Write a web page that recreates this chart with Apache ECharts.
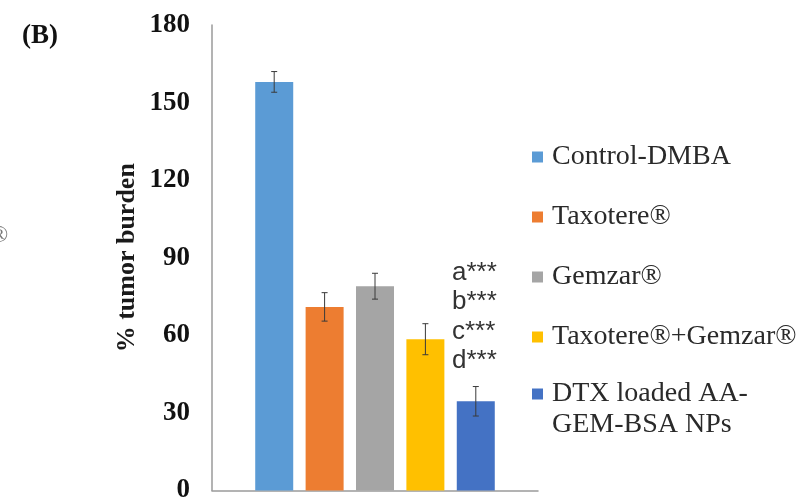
<!DOCTYPE html>
<html>
<head>
<meta charset="utf-8">
<script src="https://cdn.jsdelivr.net/npm/echarts@6/dist/echarts.min.js"></script>
<style>
html,body{margin:0;padding:0;background:#fff;}
#chart{width:802px;height:504px;}
</style>
</head>
<body>
<div id="chart"></div>
<script>
// ---- data ----
const categories = ['group'];
const seriesNames = ['Control-DMBA', 'Taxotere®', 'Gemzar®', 'Taxotere®+Gemzar®', 'DTX loaded AA-GEM-BSA NPs'];
const meanValues = [158, 71, 79, 58.5, 34.5];
const errorValues = [4, 5.5, 5, 6, 5.7];
const yTicks = [0, 30, 60, 90, 120, 150, 180];
const annotationLines = ['a***', 'b***', 'c***', 'd***'];
const panelLabel = '(B)';
const yAxisTitle = '% tumor burden';

// ---- style ----
const colors = ['#5B9BD5', '#ED7D31', '#A5A5A5', '#FFC000', '#4472C4'];
const BAR_W = 38;
const BAR_GAP_PX = 12.4;
const SERIF = '"Liberation Serif","Times New Roman",serif';

const chart = echarts.init(document.getElementById('chart'), null, {renderer: 'canvas'});

const barSeries = seriesNames.map((name, i) => ({
  name: name,
  type: 'bar',
  data: [meanValues[i]],
  barWidth: BAR_W,
  barGap: (BAR_GAP_PX / BAR_W * 100).toFixed(1) + '%',
  itemStyle: {color: colors[i]},
  z: 2
}));

const errorSeries = {
  type: 'custom',
  data: meanValues.map((v, i) => [0, v, errorValues[i], i]),
  z: 5,
  renderItem: function (params, api) {
    const v = api.value(1), e = api.value(2), idx = api.value(3);
    const n = seriesNames.length;
    const off = (idx - (n - 1) / 2) * (BAR_W + BAR_GAP_PX);
    const top = api.coord([0, v + e]);
    const bot = api.coord([0, v - e]);
    const x = top[0] + off;
    const cap = 3;
    const st = {stroke: '#3a3a3a', lineWidth: 1};
    return {
      type: 'group',
      children: [
        {type: 'line', shape: {x1: x, y1: top[1], x2: x, y2: bot[1]}, style: st},
        {type: 'line', shape: {x1: x - cap, y1: top[1], x2: x + cap, y2: top[1]}, style: st},
        {type: 'line', shape: {x1: x - cap, y1: bot[1], x2: x + cap, y2: bot[1]}, style: st}
      ]
    };
  }
};

const option = {
  backgroundColor: '#ffffff',
  animation: false,
  grid: {left: 212, right: 264, top: 25, bottom: 12, containLabel: false},
  xAxis: {
    type: 'category',
    data: categories,
    axisLine: {show: true, lineStyle: {color: '#9a9a9a', width: 1.5}},
    axisTick: {show: false},
    axisLabel: {show: false}
  },
  yAxis: {
    type: 'value',
    min: yTicks[0],
    max: yTicks[yTicks.length - 1],
    interval: yTicks[1] - yTicks[0],
    name: yAxisTitle,
    nameLocation: 'middle',
    nameGap: 72,
    nameRotate: 90,
    nameTextStyle: {fontFamily: SERIF, fontWeight: 'bold', fontSize: 26, color: '#1a1a1a'},
    axisLine: {show: true, lineStyle: {color: '#9a9a9a', width: 1.5}},
    axisTick: {show: false},
    splitLine: {show: false},
    axisLabel: {fontFamily: SERIF, fontWeight: 'bold', fontSize: 27, color: '#111', margin: 22}
  },
  legend: [
    {
      orient: 'vertical',
      left: 532,
      top: 141.5,
      padding: 0,
      itemGap: 29,
      itemWidth: 11,
      itemHeight: 11,
      icon: 'rect',
      data: seriesNames.slice(0, 4),
      textStyle: {fontFamily: SERIF, fontSize: 28, color: '#2a2a2a', lineHeight: 31, padding: [0, 0, 0, 4]},
      selectedMode: false
    },
    {
      orient: 'vertical',
      left: 532,
      top: 347.5,
      padding: 0,
      itemWidth: 11,
      itemHeight: 11,
      icon: 'rect',
      data: seriesNames.slice(4),
      formatter: function () { return ' \nDTX loaded AA-\nGEM-BSA NPs'; },
      textStyle: {fontFamily: SERIF, fontSize: 28, color: '#2a2a2a', lineHeight: 31, padding: [0, 0, 0, 4]},
      selectedMode: false
    }
  ],
  graphic: [
    {
      type: 'text', left: 22, top: 23,
      style: {text: panelLabel, font: 'bold 27px ' + SERIF, fill: '#111'}
    },
    {
      type: 'text', left: 452, top: 258,
      style: {text: annotationLines.join('\n'), font: '26px "Liberation Sans", Arial, sans-serif', fill: '#333', lineHeight: 29.5}
    },
    {
      type: 'text', left: -10, top: 224,
      style: {text: '®', font: '24px ' + SERIF, fill: '#777'}
    }
  ],
  series: barSeries.concat([errorSeries])
};

chart.setOption(option);
</script>
</body>
</html>
